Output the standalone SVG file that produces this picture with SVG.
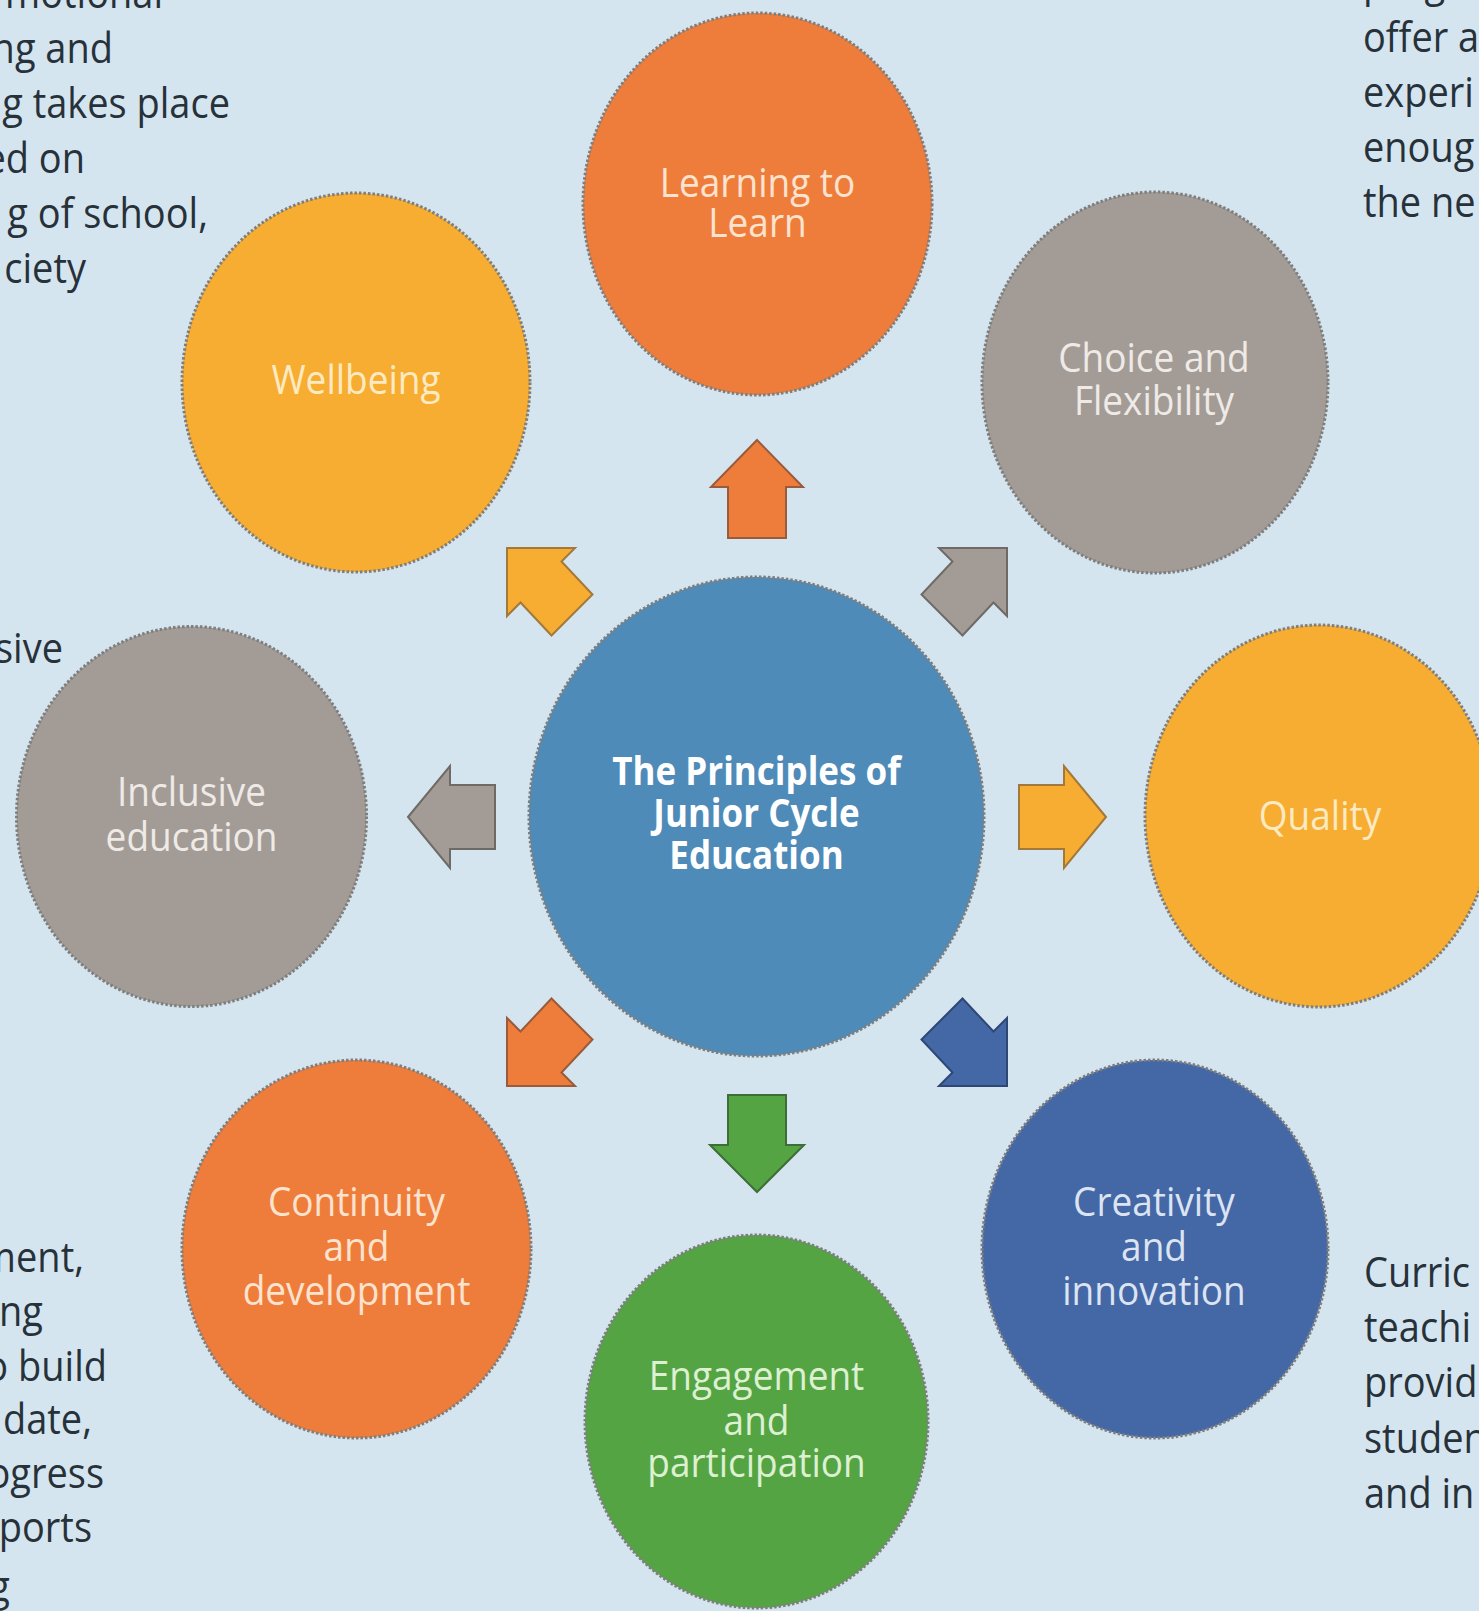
<svg xmlns="http://www.w3.org/2000/svg" width="1479" height="1611" viewBox="0 0 1479 1611">
<style>
  .bg { fill: #D5E5EF; }
  .node { stroke: #7E7E7E; stroke-width: 3; stroke-dasharray: 2.5 2; }
  .orange { fill: #EE7D3B; }
  .yellow { fill: #F7AD31; }
  .grey { fill: #A39C96; }
  .blue { fill: #4F8BB8; }
  .navy { fill: #4467A6; }
  .green { fill: #55A444; }
  .lbl { font-family: "Open Sans", "Noto Sans", sans-serif; font-size: 37px; text-anchor: middle; }
  .center-lbl { font-family: "Open Sans", "Noto Sans", sans-serif; font-size: 35px; font-weight: bold; fill: #FFFFFF; text-anchor: middle; }
  .t-orange { fill: #FCE3CF; }
  .t-yellow { fill: #FCEAC2; }
  .t-grey { fill: #EFEAE6; }
  .t-navy { fill: #DCE4F2; }
  .t-green { fill: #DDF1D2; }
  .side { font-family: "Open Sans", "Noto Sans", sans-serif; font-size: 38px; fill: #27313A; }
  .end { text-anchor: end; }
  .arrow { stroke-width: 2; stroke-linejoin: miter; }
  .a-orange { fill: #EE7D3B; stroke: #9A5A3C; }
  .a-yellow { fill: #F7AD31; stroke: #A2793A; }
  .a-grey { fill: #A39C96; stroke: #6F6A66; }
  .a-green { fill: #55A444; stroke: #3E6E36; }
  .a-navy { fill: #4467A6; stroke: #2F4775; }
</style>
<rect class="bg" x="0" y="0" width="1479" height="1611"/>

<g id="side-texts">
  <g transform="scale(1 1.12)">
    <text class="side end" x="163" y="7.1">motional</text>
    <text class="side end" x="113" y="56.3">ng and</text>
    <text class="side end" x="230" y="105.4">g takes place</text>
    <text class="side end" x="85" y="154.5">ed on</text>
    <text class="side end" x="208" y="203.6">g of school,</text>
    <text class="side end" x="86" y="252.7">ciety</text>

    <text class="side" x="1363" y="-2.7">programme</text>
    <text class="side" x="1363" y="46.4">offer a</text>
    <text class="side" x="1363" y="95.5">experi</text>
    <text class="side" x="1363" y="144.6">enoug</text>
    <text class="side" x="1363" y="193.8">the ne</text>

    <text class="side end" x="63" y="592">sive</text>

    <text class="side end" x="84" y="1135.7">ment,</text>
    <text class="side end" x="43" y="1184.1">ng</text>
    <text class="side end" x="107" y="1232.6">o build</text>
    <text class="side end" x="92" y="1280.8">date,</text>
    <text class="side end" x="104" y="1329">ogress</text>
    <text class="side end" x="92" y="1377.2">ports</text>
    <text class="side end" x="10" y="1429.5">g</text>

    <text class="side" x="1364" y="1149.1">Curric</text>
    <text class="side" x="1364" y="1198.2">teachi</text>
    <text class="side" x="1364" y="1247.3">provid</text>
    <text class="side" x="1364" y="1297.3">studen</text>
    <text class="side" x="1364" y="1346.4">and in</text>
  </g>
</g>

<g id="connectors">
  <polygon class="arrow a-orange" points="757,440 803,487 786,487 786,538 728,538 728,487 711,487"/>
  <polygon class="arrow a-green" points="728,1095 786,1095 786,1145 804,1145 757,1192 710,1145 728,1145"/>
  <polygon class="arrow a-grey" points="408,817 450,766 450,785 495,785 495,849 450,849 450,868"/>
  <polygon class="arrow a-yellow" points="1106,817 1064,766 1064,785 1019,785 1019,849 1064,849 1064,868"/>
  <polygon class="arrow a-yellow" points="507,548 575,548 561.5,561.5 592.5,594.5 551.5,635.5 520.5,602.5 507,616"/>
  <polygon class="arrow a-grey" points="1007,548 939,548 952.5,561.5 921.5,594.5 962.5,635.5 993.5,602.5 1007,616"/>
  <polygon class="arrow a-orange" points="507,1086 575,1086 561.5,1072.5 592.5,1039.5 551.5,998.5 520.5,1031.5 507,1018"/>
  <polygon class="arrow a-navy" points="1007,1086 939,1086 952.5,1072.5 921.5,1039.5 962.5,998.5 993.5,1031.5 1007,1018"/>
</g>

<g id="node-center">
  <ellipse class="node blue" cx="756.5" cy="816.5" rx="227.5" ry="239.5"/>
  <g transform="translate(756.5 785) scale(1 1.12)">
    <text class="center-lbl"><tspan x="0" y="0">The Principles of</tspan><tspan x="0" y="37.5">Junior Cycle</tspan><tspan x="0" y="75">Education</tspan></text>
  </g>
</g>

<g id="node-learning-to-learn">
  <ellipse class="node orange" cx="757.5" cy="204" rx="174.5" ry="191"/>
  <g transform="translate(757.5 197) scale(1 1.1)">
    <text class="lbl t-orange"><tspan x="0" y="0">Learning to</tspan><tspan x="0" y="36.4">Learn</tspan></text>
  </g>
</g>

<g id="node-wellbeing">
  <ellipse class="node yellow" cx="356" cy="382.5" rx="174" ry="189.5"/>
  <g transform="translate(356 394) scale(1 1.1)">
    <text class="lbl t-yellow" x="0" y="0">Wellbeing</text>
  </g>
</g>

<g id="node-choice-flexibility">
  <ellipse class="node grey" cx="1155" cy="382.5" rx="173" ry="190.5"/>
  <g transform="translate(1154 372) scale(1 1.1)">
    <text class="lbl t-grey"><tspan x="0" y="0">Choice and</tspan><tspan x="0" y="39.1">Flexibility</tspan></text>
  </g>
</g>

<g id="node-inclusive-education">
  <ellipse class="node grey" cx="191.5" cy="816.5" rx="175" ry="190"/>
  <g transform="translate(191.5 806) scale(1 1.1)">
    <text class="lbl t-grey"><tspan x="0" y="0">Inclusive</tspan><tspan x="0" y="40.9">education</tspan></text>
  </g>
</g>

<g id="node-quality">
  <ellipse class="node yellow" cx="1319" cy="816" rx="174" ry="191"/>
  <g transform="translate(1320 830) scale(1 1.1)">
    <text class="lbl t-yellow" x="0" y="0">Quality</text>
  </g>
</g>

<g id="node-continuity-development">
  <ellipse class="node orange" cx="356.5" cy="1249" rx="174.5" ry="189"/>
  <g transform="translate(356.5 1216) scale(1 1.1)">
    <text class="lbl t-orange"><tspan x="0" y="0">Continuity</tspan><tspan x="0" y="40.9">and</tspan><tspan x="0" y="80.9">development</tspan></text>
  </g>
</g>

<g id="node-creativity-innovation">
  <ellipse class="node navy" cx="1155" cy="1249" rx="173" ry="189"/>
  <g transform="translate(1154 1216) scale(1 1.1)">
    <text class="lbl t-navy"><tspan x="0" y="0">Creativity</tspan><tspan x="0" y="40.9">and</tspan><tspan x="0" y="80.9">innovation</tspan></text>
  </g>
</g>

<g id="node-engagement-participation">
  <ellipse class="node green" cx="756.5" cy="1421.5" rx="171.5" ry="186.5"/>
  <g transform="translate(756.5 1390) scale(1 1.1)">
    <text class="lbl t-green"><tspan x="0" y="0">Engagement</tspan><tspan x="0" y="40.9">and</tspan><tspan x="0" y="79.1">participation</tspan></text>
  </g>
</g>
</svg>
